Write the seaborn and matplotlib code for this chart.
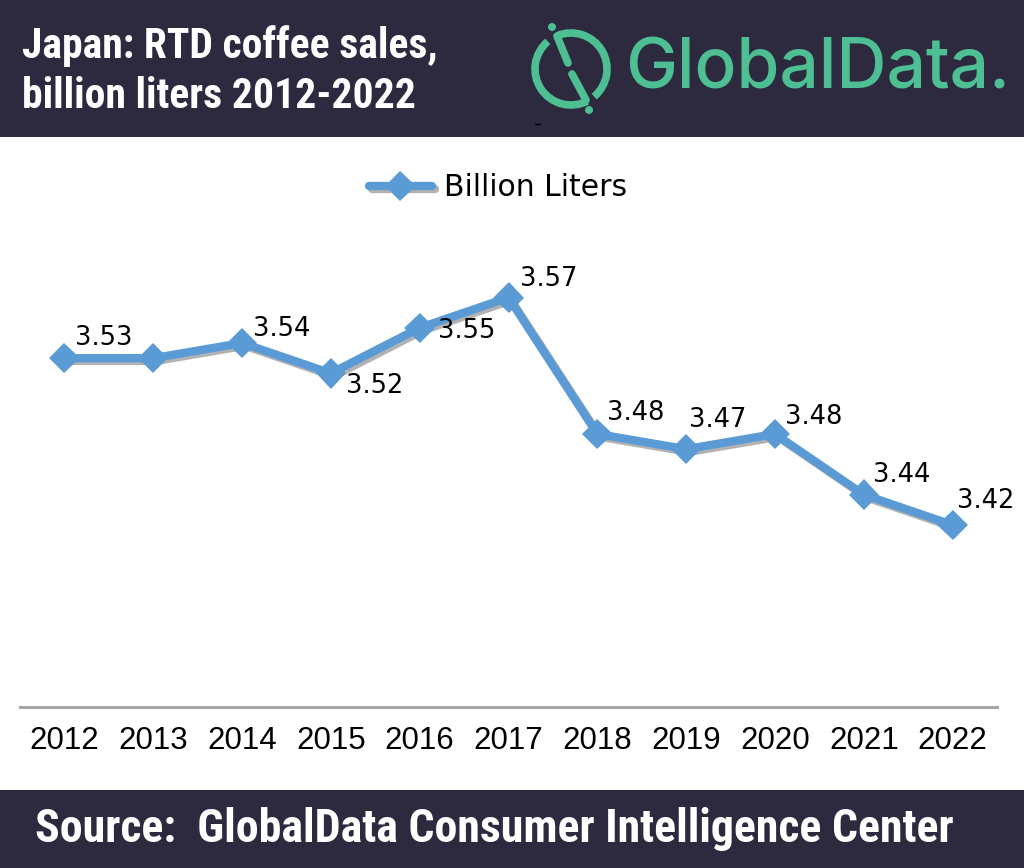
import numpy as np
import pandas as pd
import seaborn as sns
import matplotlib.pyplot as plt
import matplotlib.patheffects as pe
from matplotlib.patches import Arc, Circle, Rectangle
from matplotlib import font_manager

years = ["2012", "2013", "2014", "2015", "2016", "2017",
         "2018", "2019", "2020", "2021", "2022"]
liters = [3.53, 3.53, 3.54, 3.52, 3.55, 3.57, 3.48, 3.47, 3.48, 3.44, 3.42]
show_label = [True, False, True, True, True, True, True, True, True, True, True]
# label offsets in pixels (dx, dy)
label_off = [(11, 20), (0, 0), (11, 14), (15, -13), (18, -3), (11, 19),
             (10, 21), (3, 29), (10, 17), (9, 20), (4, 24)]

NAVY = "#2d2a3f"
BLUE = "#5b9bd5"
GREEN = "#4dbf93"

installed = {f.name for f in font_manager.fontManager.ttflist}
cond = "Roboto"
for name in ["Roboto Condensed", "Liberation Sans Narrow", "DejaVu Sans Condensed"]:
    if name in installed:
        cond = name
        break

sns.set_theme(style="white")
plt.rcParams["font.family"] = ["DejaVu Sans"]

df = pd.DataFrame({"year": years, "value": liters})

fig = plt.figure(figsize=(10.24, 8.68), dpi=100)
fig.patch.set_facecolor("white")

ax = fig.add_axes([20 / 1024, (868 - 707) / 868, 977 / 1024, (707 - 252) / 868])
sns.lineplot(data=df, x="year", y="value", ax=ax, color=BLUE, lw=6,
             marker="D", markersize=15.5, markeredgewidth=0,
             label="Billion Liters", sort=False,
             path_effects=[pe.SimpleLineShadow(offset=(2, -2), alpha=0.3, shadow_color="black"),
                           pe.Normal()])
ax.set_xlim(-0.5, 10.5)
ax.set_ylim(3.30, 3.60)
ax.set_xlabel("")
ax.set_ylabel("")
ax.set_yticks([])
for s in ["top", "left", "right"]:
    ax.spines[s].set_visible(False)
ax.spines["bottom"].set_color("#a6a6a6")
ax.spines["bottom"].set_linewidth(2.2)
ax.tick_params(axis="x", length=0, pad=14, labelsize=22.5, labelcolor="black")
for t in ax.get_xticklabels():
    t.set_family(["Liberation Sans", "DejaVu Sans"])

for i, (v, show) in enumerate(zip(liters, show_label)):
    if show:
        ax.annotate(f"{v:.2f}", (i, v), xytext=label_off[i], textcoords="offset pixels",
                    ha="left", va="center", fontsize=18.5, color="black")

leg = ax.legend(loc="center", bbox_to_anchor=(498 / 1024, 1 - 188 / 868),
                bbox_transform=fig.transFigure, frameon=False, fontsize=21.5,
                handlelength=2.1, handletextpad=0.4, labelcolor="black")
for h in leg.get_lines():
    h.set_solid_capstyle("round")

# overlay in pixel coordinates for header/footer
ov = fig.add_axes([0, 0, 1, 1], zorder=-1)
ov.set_xlim(0, 1024)
ov.set_ylim(868, 0)
ov.axis("off")
ov.add_patch(Rectangle((0, 0), 1024, 137, color=NAVY, lw=0))
ov.add_patch(Rectangle((0, 790), 1024, 78, color=NAVY, lw=0))

top = fig.add_axes([0, 0, 1, 1], zorder=5)
top.set_xlim(0, 1024)
top.set_ylim(868, 0)
top.axis("off")
top.patch.set_alpha(0)

top.text(22, 46, "Japan: RTD coffee sales,", color="white", fontsize=30,
         fontweight="bold", family=[cond, "DejaVu Sans"], ha="left", va="center")
top.text(22, 96, "billion liters 2012-2022", color="white", fontsize=30,
         fontweight="bold", family=[cond, "DejaVu Sans"], ha="left", va="center")
top.text(35, 829, "Source:  GlobalData Consumer Intelligence Center", color="white",
         fontsize=33, fontweight="bold", family=[cond, "DejaVu Sans"], ha="left", va="center")

# logo
cx, cy, r = 571, 69, 36
# in this overlay y grows downward, so angles are mirrored
top.add_patch(Arc((cx, cy), 2 * r, 2 * r, theta1=-112, theta2=50, color=GREEN, lw=5.5))
top.add_patch(Arc((cx, cy), 2 * r, 2 * r, theta1=63, theta2=230, color=GREEN, lw=5.5))
top.plot([557, 568], [36, 63], color=GREEN, lw=5.5, solid_capstyle="round")
top.plot([572, 586], [74, 100], color=GREEN, lw=5.5, solid_capstyle="round")
top.add_patch(Circle((552, 27), 4, color=GREEN, lw=0))
top.add_patch(Circle((589, 110), 4, color=GREEN, lw=0))
top.text(625, 70, "GlobalData.", color=GREEN, fontsize=50, fontweight="medium",
         family=["Inter", "DejaVu Sans"], ha="left", va="center")
top.plot([535, 540], [124, 124], color="black", lw=1)

fig.savefig("out.png", dpi=100)
